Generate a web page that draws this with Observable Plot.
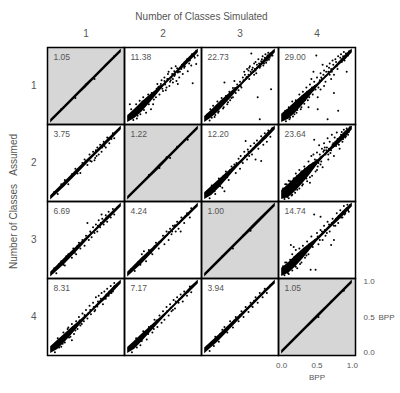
<!DOCTYPE html>
<html>
<head>
<meta charset="utf-8">
<script src="https://cdn.jsdelivr.net/npm/d3@7"></script>
<script src="https://cdn.jsdelivr.net/npm/@observablehq/plot@0.6"></script>
<style>
  html, body { margin: 0; padding: 0; background: #fff; }
</style>
</head>
<body>
<div id="chart"></div>
<script>
// ---- data ----
const classes = [1, 2, 3, 4];
const bppTicks = [0, 0.5, 1];
const axisDomain = [-0.045, 1.045];
const topTitle = "Number of Classes Simulated";
const leftTitle = "Number of Classes\u00a0\u00a0\u00a0Assumed";
const axisName = "BPP";

// panel labels (row = assumed, col = simulated)
const labels_row1 = ["1.05", "11.38", "22.73", "29.00"];
const labels_row2 = ["3.75", "1.22", "12.20", "23.64"];
const labels_row3 = ["6.69", "4.24", "1.00", "14.74"];
const labels_row4 = ["8.31", "7.17", "3.94", "1.05"];

// dense core of each panel: [x, lowest y, highest y]
const band_1_1 = [[0,-0.025,0.025],[0.2,0.175,0.225],[0.4,0.375,0.425],[0.5,0.47,0.53],[0.6,0.575,0.625],[0.8,0.775,0.825],[1,0.975,1.025]];
const band_1_2 = [[0,-0.015,0.08],[0.1,0.04,0.17],[0.2,0.13,0.27],[0.3,0.24,0.36],[0.4,0.36,0.44],[0.5,0.48,0.52],[0.6,0.58,0.62],[0.7,0.68,0.72],[0.8,0.765,0.835],[0.9,0.865,0.935],[1,0.97,1.025]];
const band_1_3 = [[0,-0.015,0.07],[0.1,0.05,0.16],[0.2,0.14,0.26],[0.3,0.25,0.35],[0.4,0.36,0.44],[0.5,0.48,0.52],[0.6,0.58,0.62],[0.7,0.68,0.72],[0.8,0.775,0.825],[0.9,0.865,0.935],[1,0.97,1.025]];
const band_1_4 = [[0,-0.015,0.1],[0.1,0.03,0.18],[0.2,0.12,0.28],[0.3,0.23,0.37],[0.4,0.35,0.45],[0.5,0.475,0.525],[0.6,0.58,0.62],[0.7,0.68,0.72],[0.8,0.775,0.825],[0.9,0.865,0.935],[1,0.97,1.025]];
const band_2_1 = [[0,-0.025,0.035],[0.2,0.165,0.235],[0.4,0.365,0.435],[0.6,0.575,0.625],[0.8,0.77,0.83],[1,0.97,1.025]];
const band_2_2 = [[0,-0.025,0.025],[0.25,0.225,0.275],[0.45,0.42,0.48],[0.6,0.575,0.625],[0.8,0.775,0.825],[1,0.975,1.025]];
const band_2_3 = [[0,-0.015,0.08],[0.1,0.04,0.17],[0.2,0.14,0.26],[0.3,0.25,0.35],[0.4,0.365,0.435],[0.5,0.475,0.525],[0.6,0.575,0.625],[0.7,0.675,0.725],[0.8,0.77,0.83],[0.9,0.865,0.935],[1,0.97,1.025]];
const band_2_4 = [[0,-0.015,0.11],[0.1,0.01,0.2],[0.2,0.1,0.3],[0.3,0.21,0.39],[0.4,0.33,0.47],[0.5,0.465,0.535],[0.6,0.58,0.62],[0.7,0.675,0.725],[0.8,0.755,0.845],[0.9,0.855,0.945],[1,0.97,1.025]];
const band_3_1 = [[0,-0.025,0.045],[0.2,0.155,0.245],[0.4,0.365,0.435],[0.6,0.58,0.62],[0.8,0.77,0.83],[1,0.97,1.025]];
const band_3_2 = [[0,-0.025,0.045],[0.2,0.155,0.245],[0.4,0.37,0.43],[0.6,0.58,0.62],[0.8,0.775,0.825],[1,0.97,1.025]];
const band_3_3 = [[0,-0.025,0.025],[0.3,0.275,0.325],[0.5,0.475,0.525],[0.7,0.67,0.73],[1,0.975,1.025]];
const band_3_4 = [[0,-0.015,0.1],[0.1,0.03,0.18],[0.2,0.12,0.28],[0.3,0.23,0.37],[0.4,0.35,0.45],[0.5,0.475,0.525],[0.6,0.575,0.625],[0.7,0.675,0.725],[0.8,0.765,0.835],[0.9,0.865,0.935],[1,0.97,1.025]];
const band_4_1 = [[0,-0.015,0.08],[0.1,0.04,0.17],[0.2,0.14,0.26],[0.3,0.25,0.35],[0.4,0.365,0.435],[0.5,0.475,0.525],[0.6,0.58,0.62],[0.7,0.675,0.725],[0.8,0.77,0.83],[0.9,0.865,0.935],[1,0.97,1.025]];
const band_4_2 = [[0,-0.015,0.07],[0.1,0.045,0.16],[0.2,0.145,0.255],[0.3,0.255,0.345],[0.4,0.365,0.435],[0.5,0.475,0.525],[0.6,0.58,0.62],[0.7,0.68,0.72],[0.8,0.775,0.825],[0.9,0.87,0.93],[1,0.97,1.025]];
const band_4_3 = [[0,-0.02,0.06],[0.2,0.155,0.245],[0.4,0.365,0.435],[0.6,0.575,0.625],[0.8,0.775,0.825],[1,0.97,1.025]];
const band_4_4 = [[0,-0.025,0.025],[0.35,0.325,0.375],[0.5,0.47,0.53],[0.65,0.625,0.675],[1,0.975,1.025]];

// scattered points: [x, y]
const pts_1_1 = [[0.15,0.17],[0.35,0.33],[0.5,0.52],[0.62,0.6],[0.78,0.8],[0.9,0.92]];
const pts_1_2 = [[0.12,0.24],[0.17,0.29],[0.22,0.34],[0.24,0.22],[0.29,0.38],[0.31,0.29],[0.33,0.17],[0.38,0.41],[0.4,0.34],[0.43,0.48],[0.45,0.38],[0.47,0.53],[0.5,0.43],[0.52,0.57],[0.55,0.48],[0.57,0.6],[0.57,0.67],[0.59,0.5],[0.62,0.62],[0.64,0.55],[0.66,0.64],[0.66,0.71],[0.69,0.57],[0.71,0.69],[0.71,0.53],[0.73,0.62],[0.76,0.74],[0.78,0.67],[0.8,0.76],[0.83,0.83],[0.85,0.71],[0.88,0.86],[0.9,0.79],[0.92,0.54],[0.95,0.9],[0.97,0.81],[0.99,0.93],[0.07,0.1],[0.05,0.17],[0.14,0.08],[0.26,0.12],[0.36,0.24],[0.03,0.24],[0.44,0.49],[0.6,0.56]];
const fringe_1_2 = [[0.05,0.1],[0.08,0.02],[0.1,0.13],[0.13,0.04],[0.16,0.21],[0.18,0.1],[0.21,0.28],[0.23,0.16],[0.27,0.32],[0.3,0.24],[0.34,0.4],[0.37,0.31],[0.41,0.46],[0.46,0.5],[0.49,0.46],[0.53,0.52],[0.56,0.6],[0.61,0.58],[0.63,0.67],[0.67,0.66],[0.7,0.75],[0.74,0.7],[0.77,0.8],[0.81,0.78],[0.84,0.88],[0.87,0.82],[0.91,0.95],[0.94,0.92],[0.97,1.0],[0.42,0.53],[0.48,0.58],[0.52,0.62],[0.58,0.7],[0.62,0.75],[0.68,0.78],[0.54,0.44],[0.64,0.6],[0.72,0.7]];
const pts_1_3 = [[0.08,0.17],[0.12,0.22],[0.15,0.09],[0.18,0.28],[0.2,0.14],[0.24,0.33],[0.27,0.2],[0.28,0.55],[0.3,0.36],[0.33,0.27],[0.35,0.42],[0.38,0.33],[0.4,0.47],[0.42,0.57],[0.44,0.4],[0.46,0.52],[0.48,0.44],[0.5,0.56],[0.52,0.48],[0.54,0.62],[0.56,0.7],[0.58,0.6],[0.6,0.74],[0.62,0.66],[0.64,0.78],[0.65,0.7],[0.66,0.96],[0.68,0.76],[0.7,0.82],[0.72,0.72],[0.74,0.8],[0.75,0.34],[0.76,0.88],[0.78,0.03],[0.78,0.76],[0.8,0.85],[0.82,0.92],[0.84,0.82],[0.86,0.95],[0.88,0.86],[0.9,0.97],[0.92,0.9],[0.94,0.455],[0.96,0.93],[0.6,0.63],[0.62,0.72],[0.66,0.68],[0.7,0.66],[0.72,0.84],[0.36,0.3],[0.22,0.24],[0.1,0.05]];
const fringe_1_3 = [[0.04,0.1],[0.07,0.01],[0.11,0.16],[0.14,0.06],[0.17,0.22],[0.19,0.12],[0.23,0.28],[0.26,0.18],[0.29,0.33],[0.32,0.24],[0.36,0.4],[0.4,0.34],[0.43,0.47],[0.47,0.49],[0.51,0.5],[0.55,0.58],[0.59,0.62],[0.63,0.6],[0.67,0.73],[0.71,0.74],[0.73,0.68],[0.77,0.82],[0.79,0.78],[0.81,0.88],[0.83,0.79],[0.85,0.9],[0.87,0.83],[0.89,0.93],[0.91,0.87],[0.93,0.96],[0.95,0.93],[0.97,0.99],[0.57,0.66],[0.63,0.76],[0.69,0.7],[0.74,0.76]];
const pts_1_4 = [[0.05,0.15],[0.1,0.2],[0.12,0.05],[0.15,0.28],[0.18,0.1],[0.2,0.3],[0.22,0.16],[0.25,0.38],[0.28,0.2],[0.3,0.42],[0.32,0.25],[0.35,0.48],[0.37,0.3],[0.4,0.52],[0.42,0.6],[0.44,0.38],[0.46,0.56],[0.48,0.45],[0.49,0.93],[0.5,0.62],[0.51,0.34],[0.51,0.17],[0.53,0.55],[0.55,0.68],[0.57,0.6],[0.6,0.72],[0.62,0.64],[0.64,0.78],[0.65,0.03],[0.66,0.7],[0.68,0.82],[0.7,0.74],[0.72,0.86],[0.74,0.66],[0.76,0.88],[0.78,0.78],[0.8,0.15],[0.8,0.92],[0.82,0.84],[0.84,0.95],[0.86,0.88],[0.88,0.98],[0.9,0.9],[0.92,0.7],[0.93,0.96],[0.95,0.99],[0.55,0.45],[0.6,0.5],[0.7,0.6],[0.58,0.8],[0.45,0.7],[0.35,0.36],[0.25,0.26],[0.38,0.2],[0.74,0.4]];
const fringe_1_4 = [[0.03,0.12],[0.06,0.0],[0.08,0.16],[0.11,0.03],[0.14,0.22],[0.16,0.07],[0.19,0.25],[0.21,0.12],[0.24,0.3],[0.27,0.17],[0.29,0.35],[0.33,0.3],[0.36,0.42],[0.39,0.34],[0.43,0.48],[0.47,0.5],[0.52,0.48],[0.56,0.62],[0.59,0.66],[0.63,0.7],[0.67,0.76],[0.71,0.7],[0.73,0.8],[0.77,0.84],[0.79,0.74],[0.83,0.9],[0.85,0.84],[0.87,0.92],[0.89,0.86],[0.91,0.96],[0.94,0.93],[0.97,1.0],[0.62,0.56],[0.68,0.66],[0.54,0.58],[0.4,0.4],[0.45,0.44]];
const pts_2_1 = [[0.15,0.2],[0.2,0.26],[0.25,0.2],[0.35,0.42],[0.42,0.36],[0.45,0.5],[0.48,0.55],[0.52,0.47],[0.55,0.62],[0.58,0.52],[0.6,0.66],[0.62,0.54],[0.63,0.57],[0.65,0.6],[0.66,0.72],[0.68,0.62],[0.7,0.76],[0.72,0.66],[0.75,0.8],[0.78,0.72],[0.8,0.86],[0.83,0.78],[0.88,0.92],[0.9,0.85]];
const fringe_2_1 = [[0.05,0.09],[0.1,0.06],[0.3,0.34],[0.38,0.35],[0.5,0.53],[0.56,0.53],[0.64,0.68],[0.73,0.72],[0.76,0.74],[0.82,0.85],[0.86,0.84],[0.92,0.94]];
const pts_2_2 = [[0.3,0.33],[0.45,0.43],[0.55,0.58],[0.6,0.57],[0.7,0.73],[0.85,0.83]];
const pts_2_3 = [[0.1,0.18],[0.15,0.06],[0.2,0.28],[0.25,0.15],[0.28,0.1],[0.3,0.38],[0.34,0.26],[0.38,0.45],[0.42,0.48],[0.44,0.36],[0.48,0.56],[0.5,0.42],[0.51,0.6],[0.54,0.5],[0.56,0.66],[0.58,0.81],[0.6,0.55],[0.61,0.69],[0.63,0.6],[0.65,0.74],[0.67,0.62],[0.7,0.71],[0.72,0.55],[0.74,0.82],[0.76,0.7],[0.8,0.53],[0.8,0.88],[0.83,0.76],[0.85,0.92],[0.88,0.8],[0.9,0.96],[0.93,0.87],[0.95,0.99],[0.7,0.78],[0.62,0.66],[0.4,0.42]];
const fringe_2_3 = [[0.04,0.1],[0.07,0.0],[0.12,0.14],[0.14,0.1],[0.17,0.22],[0.22,0.17],[0.26,0.31],[0.32,0.3],[0.36,0.4],[0.45,0.5],[0.52,0.52],[0.57,0.6],[0.64,0.66],[0.68,0.7],[0.73,0.76],[0.78,0.78],[0.82,0.85],[0.86,0.86],[0.9,0.92],[0.94,0.95],[0.97,1.0]];
const pts_2_4 = [[0.05,0.2],[0.08,0.02],[0.1,0.25],[0.15,0.05],[0.2,0.35],[0.22,0.12],[0.25,0.4],[0.3,0.2],[0.32,0.45],[0.35,0.28],[0.38,0.52],[0.4,0.3],[0.42,0.6],[0.44,0.45],[0.46,0.83],[0.47,0.55],[0.48,0.38],[0.5,0.65],[0.52,0.5],[0.53,0.75],[0.55,0.58],[0.57,0.7],[0.58,0.44],[0.6,0.78],[0.62,0.62],[0.64,0.72],[0.65,0.85],[0.66,0.55],[0.68,0.8],[0.7,0.68],[0.71,0.9],[0.72,0.76],[0.74,0.6],[0.75,0.86],[0.77,0.74],[0.78,0.93],[0.8,0.8],[0.82,0.7],[0.84,0.9],[0.86,0.8],[0.88,0.97],[0.9,0.86],[0.92,0.99],[0.94,0.9],[0.96,1.0],[0.55,0.48],[0.45,0.62],[0.6,0.68],[0.5,0.4],[0.36,0.4],[0.4,0.22],[0.28,0.38],[0.18,0.28],[0.12,0.18]];
const fringe_2_4 = [[0.02,0.14],[0.04,-0.01],[0.07,0.2],[0.1,0.0],[0.12,0.24],[0.14,0.04],[0.17,0.28],[0.19,0.08],[0.22,0.32],[0.25,0.14],[0.27,0.36],[0.29,0.18],[0.33,0.42],[0.36,0.24],[0.39,0.46],[0.43,0.32],[0.45,0.5],[0.49,0.54],[0.51,0.45],[0.54,0.62],[0.56,0.52],[0.59,0.66],[0.63,0.68],[0.67,0.7],[0.69,0.64],[0.73,0.78],[0.76,0.8],[0.79,0.84],[0.81,0.76],[0.83,0.86],[0.85,0.94],[0.87,0.84],[0.89,0.92],[0.91,0.88],[0.93,0.97],[0.95,0.94],[0.97,1.01],[0.61,0.72],[0.58,0.6],[0.66,0.62]];
const pts_3_1 = [[0.15,0.2],[0.2,0.14],[0.25,0.3],[0.3,0.25],[0.32,0.38],[0.36,0.3],[0.4,0.46],[0.42,0.38],[0.45,0.5],[0.48,0.42],[0.5,0.56],[0.52,0.74],[0.54,0.5],[0.56,0.62],[0.58,0.54],[0.6,0.68],[0.62,0.6],[0.64,0.72],[0.66,0.62],[0.68,0.78],[0.7,0.68],[0.72,0.86],[0.73,0.8],[0.75,0.72],[0.78,0.85],[0.8,0.76],[0.82,0.9],[0.85,0.82],[0.88,0.94],[0.9,0.86]];
const fringe_3_1 = [[0.05,0.1],[0.08,0.03],[0.12,0.16],[0.18,0.15],[0.22,0.27],[0.28,0.3],[0.34,0.32],[0.38,0.42],[0.44,0.45],[0.53,0.55],[0.57,0.6],[0.63,0.64],[0.67,0.7],[0.71,0.74],[0.76,0.78],[0.79,0.82],[0.83,0.84],[0.87,0.88],[0.92,0.94],[0.95,0.97]];
const pts_3_2 = [[0.2,0.3],[0.23,0.34],[0.26,0.2],[0.3,0.36],[0.35,0.3],[0.4,0.46],[0.44,0.38],[0.47,0.48],[0.5,0.56],[0.52,0.44],[0.55,0.62],[0.56,0.57],[0.58,0.5],[0.6,0.66],[0.62,0.58],[0.64,0.7],[0.66,0.69],[0.68,0.62],[0.7,0.76],[0.72,0.66],[0.75,0.62],[0.76,0.82],[0.8,0.74],[0.84,0.88],[0.88,0.82],[0.9,0.95]];
const fringe_3_2 = [[0.05,0.09],[0.1,0.06],[0.15,0.19],[0.18,0.15],[0.28,0.31],[0.33,0.32],[0.38,0.41],[0.45,0.47],[0.53,0.55],[0.58,0.61],[0.63,0.62],[0.67,0.71],[0.73,0.74],[0.78,0.8],[0.82,0.84],[0.86,0.86],[0.92,0.94]];
const pts_3_3 = [[0.25,0.27],[0.4,0.38],[0.55,0.57],[0.65,0.63],[0.8,0.82]];
const pts_3_4 = [[0.05,0.18],[0.1,0.02],[0.13,0.43],[0.15,0.3],[0.17,0.4],[0.2,0.36],[0.22,0.1],[0.25,0.38],[0.28,0.18],[0.3,0.42],[0.33,0.25],[0.36,0.48],[0.38,0.3],[0.41,0.08],[0.42,0.55],[0.44,0.4],[0.46,0.86],[0.48,0.08],[0.5,0.6],[0.52,0.44],[0.55,0.83],[0.55,0.64],[0.58,0.5],[0.6,0.7],[0.62,0.56],[0.65,0.76],[0.68,0.62],[0.7,0.43],[0.72,0.8],[0.74,0.5],[0.76,0.7],[0.78,0.88],[0.8,0.74],[0.83,0.92],[0.86,0.82],[0.88,0.98],[0.9,0.88],[0.93,1.0],[0.95,0.9],[0.24,0.26]];
const fringe_3_4 = [[0.02,0.13],[0.04,0.0],[0.07,0.18],[0.09,0.03],[0.12,0.22],[0.15,0.07],[0.18,0.26],[0.2,0.12],[0.23,0.3],[0.26,0.16],[0.28,0.34],[0.32,0.38],[0.35,0.28],[0.39,0.44],[0.43,0.46],[0.47,0.5],[0.51,0.55],[0.54,0.5],[0.57,0.62],[0.61,0.64],[0.64,0.6],[0.67,0.72],[0.71,0.74],[0.74,0.7],[0.77,0.8],[0.81,0.84],[0.84,0.82],[0.87,0.9],[0.89,0.86],[0.92,0.95],[0.94,0.92],[0.97,1.0]];
const pts_4_1 = [[0.1,0.2],[0.15,0.08],[0.18,0.28],[0.2,0.14],[0.24,0.33],[0.28,0.22],[0.3,0.4],[0.33,0.26],[0.36,0.44],[0.38,0.33],[0.4,0.5],[0.42,0.38],[0.45,0.55],[0.47,0.44],[0.5,0.6],[0.52,0.48],[0.55,0.66],[0.57,0.54],[0.6,0.7],[0.62,0.58],[0.64,0.78],[0.66,0.65],[0.68,0.8],[0.7,0.72],[0.72,0.84],[0.74,0.68],[0.76,0.86],[0.78,0.76],[0.8,0.9],[0.82,0.8],[0.85,0.94],[0.88,0.86],[0.9,0.98],[0.3,0.17],[0.25,0.35]];
const fringe_4_1 = [[0.03,0.09],[0.06,0.0],[0.08,0.13],[0.12,0.07],[0.14,0.19],[0.17,0.12],[0.22,0.26],[0.26,0.21],[0.32,0.36],[0.35,0.31],[0.41,0.45],[0.44,0.4],[0.48,0.53],[0.53,0.55],[0.56,0.6],[0.61,0.64],[0.63,0.6],[0.67,0.72],[0.71,0.76],[0.75,0.75],[0.79,0.82],[0.83,0.86],[0.86,0.84],[0.9,0.93],[0.94,0.95]];
const pts_4_2 = [[0.12,0.2],[0.18,0.1],[0.22,0.3],[0.27,0.18],[0.3,0.36],[0.35,0.28],[0.38,0.46],[0.42,0.36],[0.45,0.52],[0.48,0.42],[0.5,0.58],[0.52,0.46],[0.55,0.64],[0.58,0.52],[0.6,0.68],[0.62,0.58],[0.65,0.74],[0.67,0.62],[0.7,0.78],[0.72,0.7],[0.75,0.82],[0.78,0.72],[0.8,0.86],[0.84,0.8],[0.88,0.93],[0.9,0.85]];
const fringe_4_2 = [[0.03,0.09],[0.06,0.0],[0.09,0.13],[0.13,0.07],[0.16,0.2],[0.2,0.16],[0.25,0.29],[0.29,0.26],[0.33,0.37],[0.37,0.33],[0.41,0.45],[0.46,0.47],[0.51,0.53],[0.56,0.58],[0.61,0.63],[0.64,0.6],[0.68,0.72],[0.73,0.75],[0.77,0.78],[0.82,0.84],[0.86,0.86],[0.92,0.94]];
const pts_4_3 = [[0.15,0.22],[0.2,0.15],[0.25,0.32],[0.28,0.36],[0.32,0.28],[0.36,0.44],[0.4,0.35],[0.44,0.5],[0.48,0.44],[0.52,0.58],[0.55,0.5],[0.58,0.64],[0.62,0.57],[0.65,0.7],[0.68,0.64],[0.72,0.78],[0.75,0.7],[0.78,0.84],[0.82,0.78],[0.85,0.9],[0.88,0.84]];
const fringe_4_3 = [[0.04,0.09],[0.07,0.02],[0.1,0.14],[0.13,0.09],[0.18,0.2],[0.22,0.26],[0.3,0.33],[0.34,0.36],[0.38,0.4],[0.42,0.45],[0.46,0.47],[0.5,0.53],[0.54,0.56],[0.6,0.62],[0.66,0.66],[0.7,0.73],[0.74,0.76],[0.8,0.81],[0.84,0.86],[0.9,0.91],[0.93,0.95]];
const pts_4_4 = [[0.2,0.22],[0.4,0.41],[0.52,0.5],[0.7,0.72],[0.88,0.87]];

// ---- tables built from the arrays ----
const labelRows = [labels_row1, labels_row2, labels_row3, labels_row4];
const bandSets = [[band_1_1, band_1_2, band_1_3, band_1_4],[band_2_1, band_2_2, band_2_3, band_2_4],[band_3_1, band_3_2, band_3_3, band_3_4],[band_4_1, band_4_2, band_4_3, band_4_4]];
const ptSets = [
  [pts_1_1, pts_1_2.concat(fringe_1_2), pts_1_3.concat(fringe_1_3), pts_1_4.concat(fringe_1_4)],
  [pts_2_1.concat(fringe_2_1), pts_2_2, pts_2_3.concat(fringe_2_3), pts_2_4.concat(fringe_2_4)],
  [pts_3_1.concat(fringe_3_1), pts_3_2.concat(fringe_3_2), pts_3_3, pts_3_4.concat(fringe_3_4)],
  [pts_4_1.concat(fringe_4_1), pts_4_2.concat(fringe_4_2), pts_4_3.concat(fringe_4_3), pts_4_4]
];

const panelRows = [], bandRows = [], pointRows = [];
classes.forEach((row, ri) => classes.forEach((col, ci) => {
  panelRows.push({row, col, label: labelRows[ri][ci], diag: row === col});
  bandSets[ri][ci].forEach(([x, lo, hi]) => bandRows.push({row, col, x, lo, hi}));
  ptSets[ri][ci].forEach(([x, y]) => pointRows.push({row, col, x, y}));
}));

const font = "'Liberation Sans', Arial, Helvetica, sans-serif";
const textGray = "#555";

const chart = Plot.plot({
  width: 400,
  height: 393,
  marginTop: 47,
  marginLeft: 47,
  marginRight: 45,
  marginBottom: 38,
  style: {fontFamily: font, fontSize: "10px", color: textGray, background: "#fff"},
  x: {domain: axisDomain, axis: null},
  y: {domain: axisDomain, axis: null},
  fx: {domain: classes, padding: 0},
  fy: {domain: classes, padding: 0},
  marks: [
    Plot.rect(panelRows.filter(d => d.diag), {fx: "col", fy: "row", fill: "#d6d6d6"}),
    Plot.areaY(bandRows, {x: "x", y1: "lo", y2: "hi", fx: "col", fy: "row", fill: "black"}),
    Plot.dot(pointRows, {x: "x", y: "y", fx: "col", fy: "row", r: 1, fill: "black", stroke: "none"}),
    Plot.text(panelRows, {fx: "col", fy: "row", text: "label", frameAnchor: "top-left", textAnchor: "start", lineAnchor: "top", dx: 6, dy: 6, fontSize: 8.5, fill: textGray}),
    Plot.frame({stroke: "black", strokeWidth: 1.5}),
    Plot.axisFx({anchor: "top", tickSize: 0, tickPadding: 11, fontSize: 10, label: topTitle, labelAnchor: "center", labelOffset: 35}),
    Plot.axisFy({anchor: "left", tickSize: 0, tickPadding: 11, fontSize: 10, label: leftTitle, labelAnchor: "center", labelOffset: 38}),
    Plot.text(bppTicks, {x: d => d, fx: () => 4, fy: () => 4, frameAnchor: "bottom", lineAnchor: "middle", dy: 10, text: d => d.toFixed(1), fontSize: 8, fill: textGray}),
    Plot.text([axisName], {x: () => 0.5, fx: () => 4, fy: () => 4, frameAnchor: "bottom", lineAnchor: "middle", dy: 22, text: d => d, fontSize: 8, fill: textGray}),
    Plot.text(bppTicks, {y: d => d, fx: () => 4, fy: () => 4, frameAnchor: "right", textAnchor: "start", dx: 8, text: d => d.toFixed(1), fontSize: 8, fill: textGray}),
    Plot.text([axisName], {y: () => 0.5, fx: () => 4, fy: () => 4, frameAnchor: "right", textAnchor: "start", dx: 23, text: d => d, fontSize: 8, fill: textGray})
  ]
});
document.getElementById("chart").appendChild(chart);
</script>
</body>
</html>
